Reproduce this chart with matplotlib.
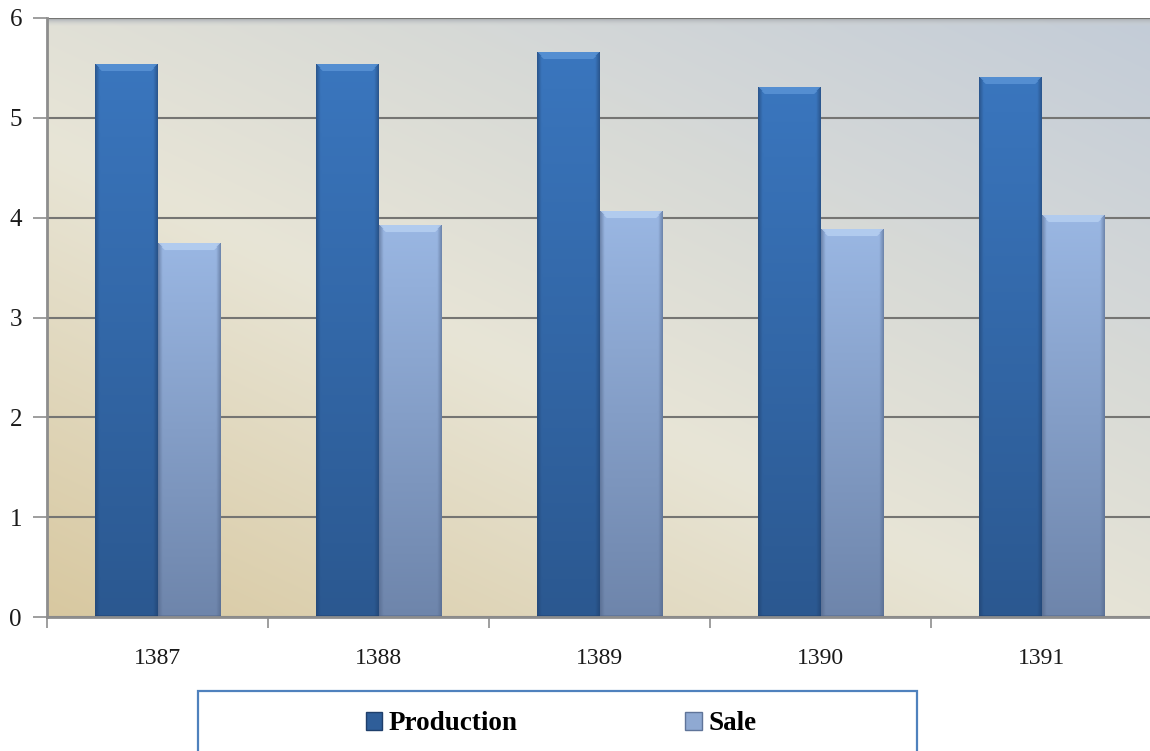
import numpy as np
import matplotlib.pyplot as plt
from matplotlib.patches import Rectangle
from matplotlib.colors import to_rgb

years = ["1387", "1388", "1389", "1390", "1391"]
production = [5.54, 5.54, 5.66, 5.31, 5.41]
sale = [3.75, 3.93, 4.07, 3.89, 4.03]
series_names = ["Production", "Sale"]

W, H = 1150, 751
fig = plt.figure(figsize=(W / 100, H / 100), dpi=100)
fig.patch.set_facecolor("white")

left, right, top, bottom = 47, 1152, 18, 617
ax = fig.add_axes([left / W, (H - bottom) / H, (right - left) / W, (bottom - top) / H])
ax.set_xlim(-0.5, len(years) - 0.5)
ax.set_ylim(0, 6)

# diagonal background wash: tan at lower left, pale in the middle, blue-grey at upper right
ny, nx = 200, 400
yy, xx = np.mgrid[0:1:ny * 1j, 0:1:nx * 1j]
t = np.clip((xx * 0.65 + yy * 0.75) / 1.4, 0, 1)
c_tan = np.array(to_rgb("#d8c8a0"))
c_mid = np.array(to_rgb("#e8e5d6"))
c_blue = np.array(to_rgb("#c3ccd8"))
bg = np.where(t[..., None] < 0.42,
              c_tan + (c_mid - c_tan) * (t[..., None] / 0.42),
              c_mid + (c_blue - c_mid) * ((t[..., None] - 0.42) / 0.58))
ax.imshow(bg, extent=[0, 1, 0, 1], transform=ax.transAxes, origin="lower",
          aspect="auto", zorder=0, interpolation="bilinear")
# thin shaded rim along the top edge of the plot area
rim = np.linspace(0, 1, 8)[:, None, None]
rim_img = np.array(to_rgb("#a9adb2")) * (1 - rim) + np.array(to_rgb("#cfd2d3")) * rim
rim_img = np.concatenate([rim_img, np.ones((8, 1, 1))], axis=2)
rim_img[..., 3] = (1 - np.linspace(0, 1, 8))[:, None] * 0.9 + 0.1
ax.imshow(rim_img, extent=[0, 1, 1 - 8 / (bottom - top), 1], transform=ax.transAxes,
          origin="upper", aspect="auto", zorder=0.5, interpolation="bilinear")

ax.set_yticks(range(0, 7))
ax.yaxis.grid(True, color="#757573", linewidth=1.5, zorder=1)
ax.set_axisbelow(True)

width = 0.285
x = np.arange(len(years))


def bar_shading(top_c, bot_c, edge_c, hi_c, px_h, px_w=60):
    rows = max(int(px_h), 2)
    v = np.linspace(0, 1, rows)[:, None]  # 0 top -> 1 bottom
    c0, c1 = np.array(to_rgb(top_c)), np.array(to_rgb(bot_c))
    img = np.repeat(c0 + (c1 - c0) * v[..., None], px_w, axis=1)
    h = np.linspace(0, 1, px_w)
    edge = np.clip(1 - np.minimum(h, 1 - h) / 0.07, 0, 1)[None, :, None]
    ec = np.array(to_rgb(edge_c))
    img = img * (1 - 0.55 * edge) + ec * 0.55 * edge
    # bevelled highlight on the top face, narrowing downwards
    hi = np.array(to_rgb(hi_c))
    bevel = 8
    for r in range(min(bevel, rows)):
        inset = int(round(r * 0.9))
        img[r, inset:px_w - inset, :] = hi * 0.75 + img[r, inset:px_w - inset, :] * 0.25
    img[0, :, :] = ec * 0.35 + hi * 0.65
    img[-2:, :, :] = img[-2:, :, :] * 0.6 + ec * 0.4
    return img


styles = {
    "Production": dict(top_c="#3a76be", bot_c="#2b5890", edge_c="#1f3f6b", hi_c="#5d97d8"),
    "Sale": dict(top_c="#9ab7e3", bot_c="#6e85ab", edge_c="#4f6386", hi_c="#bad2f3"),
}
px_per_unit = (bottom - top) / 6

for name, vals, offset in [("Production", production, -width / 2), ("Sale", sale, width / 2)]:
    st = styles[name]
    bars = ax.bar(x + offset, vals, width=width, color=st["top_c"], edgecolor="none",
                  zorder=2, label=name)
    for b, v in zip(bars, vals):
        img = bar_shading(px_h=v * px_per_unit, **st)
        im = ax.imshow(img, extent=[b.get_x(), b.get_x() + b.get_width(), 0, v],
                       origin="upper", aspect="auto", zorder=2.1, interpolation="bilinear")
        im.set_clip_path(b)

for s in ["top", "right"]:
    ax.spines[s].set_visible(False)
for s in ["left", "bottom"]:
    ax.spines[s].set_color("#8d8d8d")
    ax.spines[s].set_linewidth(2)
    ax.spines[s].set_zorder(3)

ax.tick_params(axis="y", length=10, width=1.2, color="#8d8d8d", pad=8,
               labelsize=18, labelcolor="#1a1a1a")
ax.set_xticks(np.arange(-0.5, len(years), 1.0))
ax.set_xticklabels([])
ax.tick_params(axis="x", which="major", length=8, width=1.2, color="#8d8d8d")
ax.set_xticks(x, minor=True)
ax.set_xticklabels(years, minor=True)
ax.tick_params(axis="x", which="minor", length=0, pad=22, labelsize=17, labelcolor="#1a1a1a")
for lab in ax.get_xticklabels(minor=True) + ax.get_yticklabels():
    lab.set_family("Liberation Serif")

# legend frame, open at the bottom edge of the figure
fig.add_artist(Rectangle((198 / W, -0.02), 719 / W, (H - 691) / H + 0.02,
                         transform=fig.transFigure, facecolor="white",
                         edgecolor="#4f81bd", linewidth=1.6, clip_on=False))
handles = [Rectangle((0, 0), 1, 1, facecolor="#2f5e99", edgecolor="#1f3f6b"),
           Rectangle((0, 0), 1, 1, facecolor="#8fa9d2", edgecolor="#5f7499")]
fig.legend(handles, series_names, loc="center", bbox_to_anchor=(561 / W, (H - 724) / H),
           ncol=2, frameon=False, handlelength=0.6, handleheight=0.6,
           handletextpad=0.25, columnspacing=6.2,
           prop={"family": "Liberation Serif", "weight": "bold", "size": 19.5})

fig.savefig("out.png", dpi=100)
